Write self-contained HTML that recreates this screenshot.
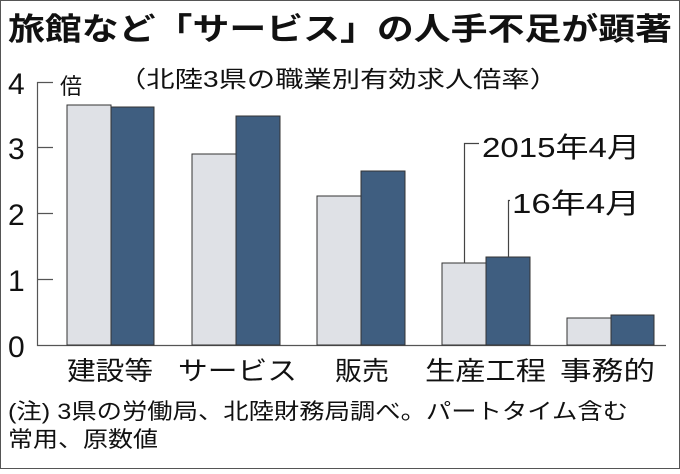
<!DOCTYPE html>
<html><head><meta charset="utf-8"><style>
body{margin:0;background:#fff}
svg text{font-family:"Liberation Sans","Noto Sans CJK JP",sans-serif;fill:#111}
</style></head><body>
<svg width="680" height="469" viewBox="0 0 680 469" xmlns="http://www.w3.org/2000/svg">
<rect x="0.5" y="0.5" width="679" height="468" fill="#fff" stroke="#555" stroke-width="1"/>
<text x="8" y="40" font-size="31" font-weight="bold" textLength="664" lengthAdjust="spacingAndGlyphs">旅館など「サービス」の人手不足が顕著</text>
<text x="118" y="87" font-size="23" textLength="440" lengthAdjust="spacingAndGlyphs">（北陸3県の職業別有効求人倍率）</text>
<g font-size="30">
<text x="8" y="94">4</text><text x="8" y="159">3</text><text x="8" y="225">2</text><text x="8" y="291">1</text><text x="8" y="357">0</text>
</g>
<text x="60" y="94" font-size="22">倍</text>
<g stroke="#555" stroke-width="1.2" fill="none">
<path d="M37.5 82 V345.5 H666"/>
<path d="M37 82.5h16M37 147.5h16M37 213.5h16M37 279.5h16"/>
</g>
<g stroke="#333" stroke-width="1">
<rect x="67" y="105" width="44" height="240" fill="#dfe1e6"/>
<rect x="111" y="107" width="43" height="238" fill="#3f5e80"/>
<rect x="192" y="154" width="44" height="191" fill="#dfe1e6"/>
<rect x="236" y="116" width="44" height="229" fill="#3f5e80"/>
<rect x="317" y="196" width="44" height="149" fill="#dfe1e6"/>
<rect x="361" y="171" width="44" height="174" fill="#3f5e80"/>
<rect x="442" y="263" width="44" height="82" fill="#dfe1e6"/>
<rect x="486" y="257" width="44" height="88" fill="#3f5e80"/>
<rect x="567" y="318" width="44" height="27" fill="#dfe1e6"/>
<rect x="611" y="315" width="43" height="30" fill="#3f5e80"/>
</g>
<g stroke="#444" stroke-width="1.2" fill="none">
<path d="M464.5 263V143.5H479"/>
<path d="M508.5 257V200.5H510"/>
</g>
<text x="482" y="157" font-size="28" textLength="158" lengthAdjust="spacingAndGlyphs">2015年4月</text>
<text x="512" y="213" font-size="28" textLength="128" lengthAdjust="spacingAndGlyphs">16年4月</text>
<g font-size="26">
<text x="67" y="380" textLength="86" lengthAdjust="spacingAndGlyphs">建設等</text>
<text x="178" y="380" textLength="119" lengthAdjust="spacingAndGlyphs">サービス</text>
<text x="335" y="380" textLength="54" lengthAdjust="spacingAndGlyphs">販売</text>
<text x="425" y="380" textLength="121" lengthAdjust="spacingAndGlyphs">生産工程</text>
<text x="560" y="380" textLength="95" lengthAdjust="spacingAndGlyphs">事務的</text>
</g>
<text x="8" y="419" font-size="22" textLength="620" lengthAdjust="spacingAndGlyphs">(注) 3県の労働局、北陸財務局調べ。パートタイム含む</text>
<text x="8" y="447" font-size="22" textLength="150" lengthAdjust="spacingAndGlyphs">常用、原数値</text>
</svg>
</body></html>
